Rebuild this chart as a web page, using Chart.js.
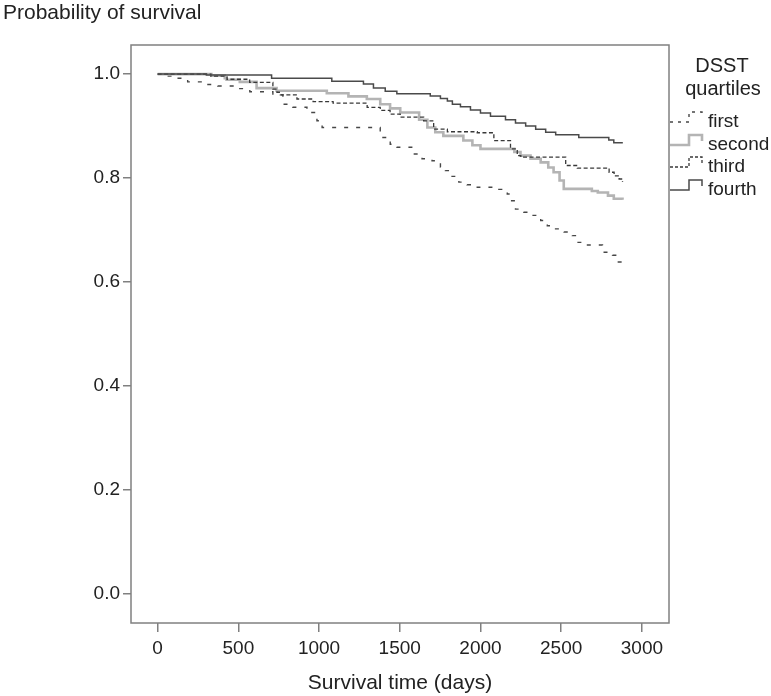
<!DOCTYPE html>
<html>
<head>
<meta charset="utf-8">
<script src="https://cdn.jsdelivr.net/npm/chart.js@4/dist/chart.umd.min.js"></script>
<style>
  html, body { margin: 0; padding: 0; background: #fff; }
  #wrap { width: 771px; height: 696px; }
</style>
</head>
<body>
<div id="wrap"><canvas id="KmChart" width="771" height="696"></canvas></div>
<script>
// Kaplan-Meier estimates (days, survival)
const firstDays = [0, 45, 120, 186, 292, 373, 509, 571, 714, 776, 838, 925, 987, 1019, 1379, 1441, 1483, 1586, 1638, 1700, 1752, 1783, 1824, 1866, 1917, 1980, 2114, 2166, 2186, 2217, 2269, 2311, 2373, 2414, 2455, 2518, 2569, 2600, 2663, 2756, 2818, 2849, 2880];
const firstSurv = [1.0, 0.996, 0.992, 0.985, 0.980, 0.977, 0.972, 0.966, 0.960, 0.942, 0.936, 0.926, 0.910, 0.897, 0.878, 0.865, 0.859, 0.846, 0.837, 0.833, 0.821, 0.814, 0.803, 0.792, 0.787, 0.782, 0.778, 0.769, 0.756, 0.740, 0.734, 0.728, 0.718, 0.708, 0.702, 0.696, 0.689, 0.676, 0.671, 0.657, 0.651, 0.638, 0.635];

const secondDays = [0, 333, 416, 427, 509, 613, 737, 1048, 1182, 1296, 1379, 1440, 1503, 1620, 1671, 1720, 1770, 1894, 1950, 2000, 2210, 2248, 2310, 2373, 2420, 2453, 2490, 2516, 2690, 2727, 2790, 2826, 2880];
const secondSurv = [1.0, 0.997, 0.992, 0.989, 0.985, 0.973, 0.968, 0.963, 0.957, 0.952, 0.942, 0.934, 0.926, 0.912, 0.897, 0.888, 0.881, 0.872, 0.863, 0.856, 0.850, 0.843, 0.837, 0.830, 0.820, 0.811, 0.795, 0.779, 0.775, 0.772, 0.766, 0.760, 0.758];

const thirdDays = [0, 330, 430, 570, 714, 739, 760, 863, 963, 1087, 1298, 1379, 1440, 1503, 1648, 1710, 1795, 1980, 2083, 2186, 2228, 2250, 2528, 2600, 2797, 2828, 2859, 2880];
const thirdSurv = [1.0, 0.996, 0.990, 0.984, 0.971, 0.965, 0.960, 0.952, 0.947, 0.944, 0.936, 0.930, 0.923, 0.917, 0.910, 0.894, 0.889, 0.887, 0.872, 0.856, 0.843, 0.840, 0.824, 0.819, 0.811, 0.804, 0.798, 0.792];

const fourthDays = [0, 302, 706, 1079, 1275, 1337, 1410, 1482, 1689, 1752, 1795, 1826, 1876, 1938, 2000, 2062, 2155, 2217, 2280, 2342, 2404, 2466, 2609, 2795, 2826, 2882];
const fourthSurv = [1.0, 0.998, 0.992, 0.986, 0.981, 0.973, 0.967, 0.962, 0.958, 0.953, 0.948, 0.942, 0.937, 0.931, 0.925, 0.919, 0.912, 0.906, 0.900, 0.894, 0.888, 0.883, 0.878, 0.873, 0.868, 0.868];

const groupNames = ['first', 'second', 'third', 'fourth'];
const xTickValues = [0, 500, 1000, 1500, 2000, 2500, 3000];
const yTickValues = [0.0, 0.2, 0.4, 0.6, 0.8, 1.0];

const FONT = '"Liberation Sans", Arial, sans-serif';
const frameColor = '#808080';

const styles = [
  { color: '#474747', width: 1.4, dash: [4, 8], legendDash: [3, 5] },
  { color: '#b4b4b4', width: 2.6, dash: [], legendDash: [] },
  { color: '#383838', width: 1.3, dash: [4, 2.5], legendDash: [3, 2] },
  { color: '#4a4a4a', width: 1.5, dash: [], legendDash: [] }
];

const toPoints = (days, surv) => days.map((d, i) => ({ x: d, y: surv[i] }));
const series = [
  toPoints(firstDays, firstSurv),
  toPoints(secondDays, secondSurv),
  toPoints(thirdDays, thirdSurv),
  toPoints(fourthDays, fourthSurv)
];

const decorations = {
  id: 'decorations',
  afterDraw(chart) {
    const ctx = chart.ctx;
    const a = chart.chartArea;
    ctx.save();
    // frame
    ctx.strokeStyle = frameColor;
    ctx.lineWidth = 1.5;
    ctx.strokeRect(a.left, a.top, a.right - a.left, a.bottom - a.top);

    ctx.fillStyle = '#222';
    ctx.font = '21px ' + FONT;
    ctx.textBaseline = 'middle';
    ctx.textAlign = 'left';
    ctx.fillText('Probability of survival', 3, 13);
    ctx.textAlign = 'center';
    ctx.fillText('Survival time (days)', (a.left + a.right) / 2, 683);

    // legend
    ctx.font = '20px ' + FONT;
    ctx.fillText('DSST', 722, 66);
    ctx.fillText('quartiles', 723, 89);
    ctx.font = '19px ' + FONT;
    const rows = [122, 145, 167, 190];
    groupNames.forEach((name, i) => {
      const y = rows[i], s = styles[i];
      ctx.strokeStyle = s.color;
      ctx.lineWidth = s.width;
      ctx.setLineDash(s.legendDash);
      ctx.beginPath();
      ctx.moveTo(670, y);
      ctx.lineTo(689, y);
      ctx.lineTo(689, y - 10);
      ctx.lineTo(702, y - 10);
      ctx.lineTo(702, y - 4);
      ctx.stroke();
      ctx.setLineDash([]);
      ctx.textAlign = 'left';
      ctx.fillStyle = '#222';
      ctx.fillText(name, 708, y);
    });
    ctx.restore();
  }
};

new Chart(document.getElementById('KmChart'), {
  type: 'line',
  data: {
    datasets: series.map((pts, i) => ({
      label: groupNames[i],
      data: pts,
      stepped: true,
      borderColor: styles[i].color,
      borderWidth: styles[i].width,
      borderDash: styles[i].dash,
      pointRadius: 0,
      fill: false
    })).reverse()
  },
  options: {
    responsive: false,
    animation: false,
    layout: { padding: { left: 0, top: 45, right: 102, bottom: 0 } },
    plugins: {
      legend: { display: false },
      tooltip: { enabled: false }
    },
    scales: {
      x: {
        type: 'linear',
        min: -165,
        max: 3168,
        afterBuildTicks: (scale) => { scale.ticks = xTickValues.map(v => ({ value: v })); },
        afterFit: (scale) => { scale.height = 73; },
        grid: { drawOnChartArea: false, drawTicks: true, tickLength: 9, color: frameColor, lineWidth: 1.5 },
        border: { display: false },
        ticks: { color: '#222', font: { family: FONT, size: 19 }, padding: 5, maxRotation: 0, callback: (v) => String(v) }
      },
      y: {
        type: 'linear',
        min: -0.057,
        max: 1.056,
        afterBuildTicks: (scale) => { scale.ticks = yTickValues.map(v => ({ value: v })); },
        afterFit: (scale) => { scale.width = 131; },
        grid: { drawOnChartArea: false, drawTicks: true, tickLength: 8, color: frameColor, lineWidth: 1.5 },
        border: { display: false },
        ticks: { color: '#222', font: { family: FONT, size: 19 }, padding: 3, callback: (v) => v.toFixed(1) }
      }
    }
  },
  plugins: [decorations]
});
</script>
</body>
</html>
